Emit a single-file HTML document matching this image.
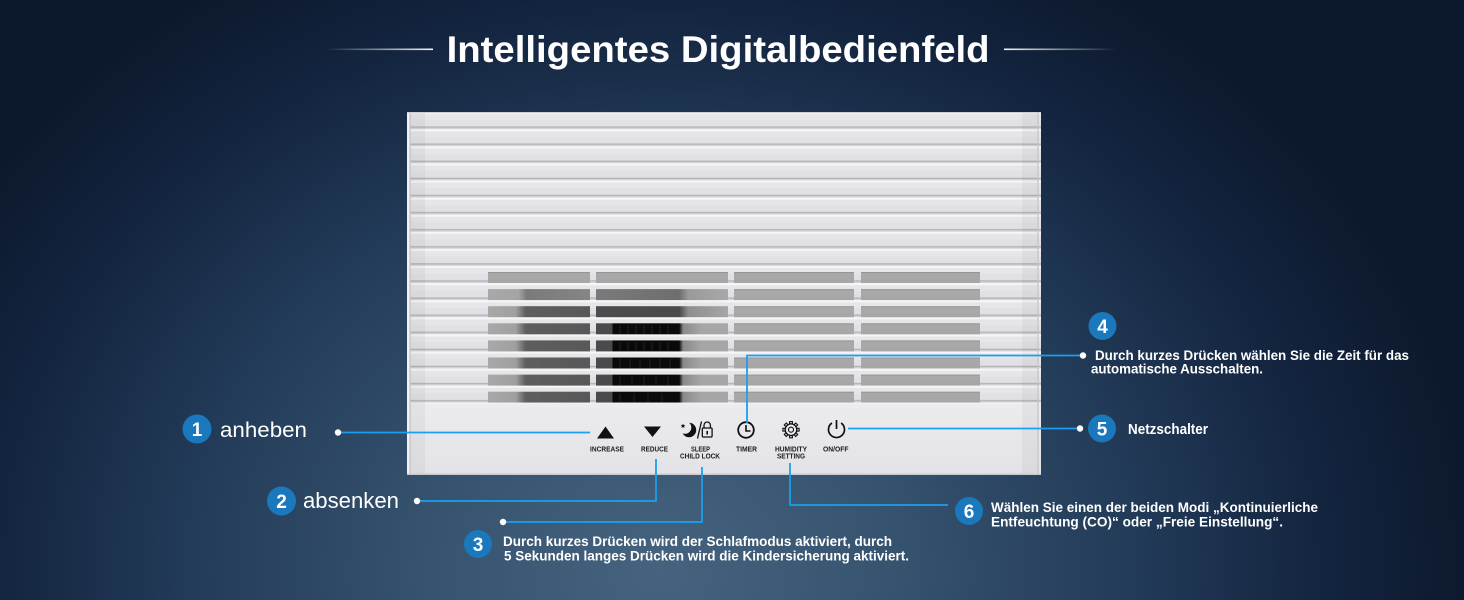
<!DOCTYPE html>
<html><head><meta charset="utf-8"><style>
html,body{margin:0;padding:0;}
body{width:1464px;height:600px;overflow:hidden;background:radial-gradient(ellipse 820px 700px at 660px 570px,#45637f 0%,#36536f 28%,#223b58 58%,#142540 80%,#0c182c 100%);}
svg{display:block;font-family:"Liberation Sans",sans-serif;}
</style></head><body>
<svg width="1464" height="600" viewBox="0 0 1464 600" xmlns="http://www.w3.org/2000/svg">
<defs>
<linearGradient id="ll" x1="0" x2="1" y1="0" y2="0"><stop offset="0" stop-color="#fff" stop-opacity="0"/><stop offset="1" stop-color="#fff" stop-opacity="0.95"/></linearGradient>
<linearGradient id="lr" x1="0" x2="1" y1="0" y2="0"><stop offset="0" stop-color="#fff" stop-opacity="0.95"/><stop offset="1" stop-color="#fff" stop-opacity="0"/></linearGradient>
<pattern id="slat" x="0" y="112" width="1464" height="17.1" patternUnits="userSpaceOnUse">
<rect x="0" y="0" width="1464" height="17.1" fill="#e6e6ea"/>
<rect x="0" y="0" width="1464" height="2.2" fill="#f6f6f8"/>
<rect x="0" y="8" width="1464" height="6.6" fill="#e1e1e5"/>
<rect x="0" y="14.4" width="1464" height="1.5" fill="#b3b3b9"/>
<rect x="0" y="15.9" width="1464" height="1.2" fill="#d5d5d9"/>
</pattern>
<linearGradient id="win" x1="0" x2="0" y1="0" y2="1"><stop offset="0" stop-color="#8c8c8c"/><stop offset="0.15" stop-color="#a9a9a9"/><stop offset="1" stop-color="#a6a6a6"/></linearGradient>
<linearGradient id="c1" x1="488" x2="590" y1="0" y2="0" gradientUnits="userSpaceOnUse"><stop offset="0" stop-color="#a8a8a8"/><stop offset="0.27" stop-color="#a0a0a0"/><stop offset="0.37" stop-color="#5e5e5e"/><stop offset="1" stop-color="#585858"/></linearGradient>
<linearGradient id="c1b" x1="488" x2="590" y1="0" y2="0" gradientUnits="userSpaceOnUse"><stop offset="0" stop-color="#a8a8a8"/><stop offset="0.3" stop-color="#a4a4a4"/><stop offset="0.38" stop-color="#7a7a7a"/><stop offset="1" stop-color="#858585"/></linearGradient>
<linearGradient id="c2" x1="596" x2="728" y1="0" y2="0" gradientUnits="userSpaceOnUse"><stop offset="0" stop-color="#4a4a4a"/><stop offset="0.12" stop-color="#4a4a4a"/><stop offset="0.13" stop-color="#0a0a0a"/><stop offset="0.63" stop-color="#0a0a0a"/><stop offset="0.66" stop-color="#8a8a8a"/><stop offset="0.8" stop-color="#a6a6a6"/><stop offset="1" stop-color="#a6a6a6"/></linearGradient>
<linearGradient id="c2a" x1="596" x2="728" y1="0" y2="0" gradientUnits="userSpaceOnUse"><stop offset="0" stop-color="#4c4c4c"/><stop offset="0.63" stop-color="#4a4a4a"/><stop offset="0.7" stop-color="#8e8e8e"/><stop offset="1" stop-color="#a6a6a6"/></linearGradient>
<linearGradient id="c2b" x1="596" x2="728" y1="0" y2="0" gradientUnits="userSpaceOnUse"><stop offset="0" stop-color="#7a7a7a"/><stop offset="0.63" stop-color="#6e6e6e"/><stop offset="0.7" stop-color="#9a9a9a"/><stop offset="1" stop-color="#a8a8a8"/></linearGradient>
<linearGradient id="panel" x1="0" x2="0" y1="0" y2="1"><stop offset="0" stop-color="#ececef"/><stop offset="1" stop-color="#e3e3e7"/></linearGradient>
<mask id="moon"><rect x="675" y="415" width="30" height="30" fill="#fff"/><circle cx="685" cy="427.5" r="6.3" fill="#000"/></mask>
</defs>

<!-- title -->
<rect x="326" y="48.5" width="107" height="1.6" fill="url(#ll)"/>
<rect x="1004" y="48.5" width="112" height="1.6" fill="url(#lr)"/>
<text x="446.6" y="62" font-size="37" font-weight="bold" fill="#fff" textLength="543" lengthAdjust="spacingAndGlyphs">Intelligentes Digitalbedienfeld</text>

<!-- device -->
<rect x="407" y="112" width="634" height="363" rx="3" fill="#e8e8eb"/>
<rect x="407" y="112" width="634" height="290.7" fill="url(#slat)"/>
<!-- windows -->
<g>
<rect x="488" y="272" width="102" height="11" fill="url(#win)"/>
<rect x="596" y="272" width="132" height="11" fill="url(#win)"/>
<rect x="734" y="272" width="120" height="11" fill="url(#win)"/>
<rect x="861" y="272" width="119" height="11" fill="url(#win)"/>

<rect x="488" y="289.1" width="102" height="11" fill="url(#c1b)"/>
<rect x="596" y="289.1" width="132" height="11" fill="url(#c2b)"/>
<rect x="488" y="306.2" width="102" height="11" fill="url(#c1)"/>
<rect x="596" y="306.2" width="132" height="11" fill="url(#c2a)"/>
<rect x="488" y="323.3" width="102" height="11" fill="url(#c1)"/>
<rect x="596" y="323.3" width="132" height="11" fill="url(#c2)"/>
<rect x="488" y="340.4" width="102" height="11" fill="url(#c1)"/>
<rect x="596" y="340.4" width="132" height="11" fill="url(#c2)"/>
<rect x="488" y="357.5" width="102" height="11" fill="url(#c1)"/>
<rect x="596" y="357.5" width="132" height="11" fill="url(#c2)"/>
<rect x="488" y="374.6" width="102" height="11" fill="url(#c1)"/>
<rect x="596" y="374.6" width="132" height="11" fill="url(#c2)"/>
<rect x="488" y="391.7" width="102" height="11" fill="url(#c1)"/>
<rect x="596" y="391.7" width="132" height="11" fill="url(#c2)"/>

<rect x="734" y="289.1" width="120" height="11" fill="url(#win)"/>
<rect x="861" y="289.1" width="119" height="11" fill="url(#win)"/>
<rect x="734" y="306.2" width="120" height="11" fill="url(#win)"/>
<rect x="861" y="306.2" width="119" height="11" fill="url(#win)"/>
<rect x="734" y="323.3" width="120" height="11" fill="url(#win)"/>
<rect x="861" y="323.3" width="119" height="11" fill="url(#win)"/>
<rect x="734" y="340.4" width="120" height="11" fill="url(#win)"/>
<rect x="861" y="340.4" width="119" height="11" fill="url(#win)"/>
<rect x="734" y="357.5" width="120" height="11" fill="url(#win)"/>
<rect x="861" y="357.5" width="119" height="11" fill="url(#win)"/>
<rect x="734" y="374.6" width="120" height="11" fill="url(#win)"/>
<rect x="861" y="374.6" width="119" height="11" fill="url(#win)"/>
<rect x="734" y="391.7" width="120" height="11" fill="url(#win)"/>
<rect x="861" y="391.7" width="119" height="11" fill="url(#win)"/>
</g>
<!-- black display texture -->
<g stroke="#2a2a2a" stroke-width="0.8">
<path d="M620 325V334M628 325V334M636 325V334M644 325V334M652 325V334M660 325V334M668 325V334M620 342V351M628 342V351M636 342V351M644 342V351M652 342V351M660 342V351M668 342V351M620 359V368M630 359V368M640 359V368M650 359V368M660 359V368M670 359V368M620 376V385M632 376V385M644 376V385M656 376V385M668 376V385M620 393V402M634 393V402M648 393V402M662 393V402"/>
</g>
<!-- bottom panel -->
<rect x="407" y="402.7" width="634" height="72.3" fill="url(#panel)"/>
<rect x="407" y="402.7" width="634" height="1" fill="#f4f4f6"/>
<!-- edges -->
<rect x="407" y="112" width="2.5" height="363" fill="#f2f2f4"/>
<rect x="409.5" y="112" width="1.2" height="363" fill="#bcbcc1"/>
<rect x="411" y="112" width="14" height="363" fill="#000" fill-opacity="0.035"/>
<rect x="1022" y="112" width="16" height="363" fill="#000" fill-opacity="0.035"/>
<rect x="1037.5" y="112" width="1.2" height="363" fill="#c2c2c7"/>
<rect x="407" y="473.5" width="634" height="1.5" fill="#c9c9ce"/>
<rect x="407" y="112" width="634" height="1.2" fill="#cfcfd4"/>

<!-- icons -->
<g fill="#111">
<polygon points="597,438.5 605.5,426.5 614,438.5"/>
<polygon points="644,426.5 661,426.5 652.5,437"/>
<circle cx="689" cy="430" r="7.2" mask="url(#moon)"/>
<path d="M683 423.5l0.7 1.6 1.7 0.1-1.3 1.1 0.4 1.7-1.5-0.9-1.5 0.9 0.4-1.7-1.3-1.1 1.7-0.1z"/>
</g>
<g fill="none" stroke="#111">
<path d="M697.5 438.5L701.5 421.5" stroke-width="1.3"/>
<path d="M704 428V425.2A3.2 3.2 0 0 1 710.4 425.2V428" stroke-width="1.3"/>
<rect x="702.3" y="428" width="9.8" height="9" rx="1" stroke-width="1.3"/>
<circle cx="746" cy="430" r="7.8" stroke-width="1.8"/>
<path d="M746 425V431H750.5" stroke-width="1.6"/>
<circle cx="791" cy="429.7" r="5.8" stroke-width="1.2"/>
<circle cx="791" cy="429.7" r="2.5" stroke-width="1.1"/>
<path d="M841.1 423A8 8 0 1 1 831.9 423" stroke-width="1.7"/>
<path d="M836.5 420V429" stroke-width="1.7"/>
</g>
<g fill="none" stroke="#111" stroke-width="1.1">
<rect x="789.6" y="421.6" width="2.8" height="2.3"/>
<rect x="789.6" y="421.6" width="2.8" height="2.3" transform="rotate(45 791 429.7)"/>
<rect x="789.6" y="421.6" width="2.8" height="2.3" transform="rotate(90 791 429.7)"/>
<rect x="789.6" y="421.6" width="2.8" height="2.3" transform="rotate(135 791 429.7)"/>
<rect x="789.6" y="421.6" width="2.8" height="2.3" transform="rotate(180 791 429.7)"/>
<rect x="789.6" y="421.6" width="2.8" height="2.3" transform="rotate(225 791 429.7)"/>
<rect x="789.6" y="421.6" width="2.8" height="2.3" transform="rotate(270 791 429.7)"/>
<rect x="789.6" y="421.6" width="2.8" height="2.3" transform="rotate(315 791 429.7)"/>
</g>
<rect x="706.4" y="431" width="1.6" height="3.5" fill="#111"/>
<g font-size="7" font-weight="bold" fill="#1a1a1a">
<text x="590" y="451.5" textLength="34" lengthAdjust="spacingAndGlyphs">INCREASE</text>
<text x="641" y="451.5" textLength="27" lengthAdjust="spacingAndGlyphs">REDUCE</text>
<text x="691" y="451.5" textLength="19" lengthAdjust="spacingAndGlyphs">SLEEP</text>
<text x="680" y="458.5" textLength="40" lengthAdjust="spacingAndGlyphs">CHILD LOCK</text>
<text x="736" y="451.5" textLength="21" lengthAdjust="spacingAndGlyphs">TIMER</text>
<text x="775" y="451.5" textLength="32" lengthAdjust="spacingAndGlyphs">HUMIDITY</text>
<text x="777" y="458.5" textLength="28" lengthAdjust="spacingAndGlyphs">SETTING</text>
<text x="823" y="451.5" textLength="25.5" lengthAdjust="spacingAndGlyphs">ON/OFF</text>
</g>

<!-- callout lines -->
<g fill="none" stroke="#1aa0ee" stroke-width="1.8">
<path d="M338 432.5H590"/>
<path d="M417 501H656V459"/>
<path d="M503 522H702V467"/>
<path d="M747 423V355.5H1083"/>
<path d="M848 428.5H1080"/>
<path d="M790 463V505H948"/>
</g>
<g fill="#fff">
<circle cx="338" cy="432.5" r="3.2"/>
<circle cx="417" cy="501" r="3.2"/>
<circle cx="503" cy="522" r="3.2"/>
<circle cx="1083" cy="355.5" r="3.2"/>
<circle cx="1080" cy="428.5" r="3.2"/>
</g>

<!-- number badges -->
<g fill="#1a78bd">
<circle cx="197" cy="429" r="14.5"/>
<circle cx="281.5" cy="501" r="14.5"/>
<circle cx="478" cy="544" r="14"/>
<circle cx="1102.5" cy="326" r="14"/>
<circle cx="1102" cy="428.5" r="14"/>
<circle cx="969" cy="511" r="14"/>
</g>
<g fill="#fff" font-weight="bold" font-size="19" text-anchor="middle">
<text x="197" y="435.8">1</text>
<text x="281.5" y="507.8">2</text>
<text x="478" y="550.8">3</text>
<text x="1102.5" y="332.8">4</text>
<text x="1102" y="435.3">5</text>
<text x="969" y="517.8">6</text>
</g>

<!-- labels -->
<g fill="#fff">
<text x="220" y="437" font-size="21" textLength="87" lengthAdjust="spacingAndGlyphs">anheben</text>
<text x="303" y="508" font-size="22" textLength="96" lengthAdjust="spacingAndGlyphs">absenken</text>
</g>
<g fill="#fff" font-size="14" font-weight="bold">
<text x="503" y="546" textLength="389" lengthAdjust="spacingAndGlyphs">Durch kurzes Drücken wird der Schlafmodus aktiviert, durch</text>
<text x="504" y="560.3" textLength="405" lengthAdjust="spacingAndGlyphs">5 Sekunden langes Drücken wird die Kindersicherung aktiviert.</text>
<text x="1095" y="360" textLength="314" lengthAdjust="spacingAndGlyphs">Durch kurzes Drücken wählen Sie die Zeit für das</text>
<text x="1091" y="373.5" textLength="172" lengthAdjust="spacingAndGlyphs">automatische Ausschalten.</text>
<text x="1128" y="434" font-size="15" textLength="80" lengthAdjust="spacingAndGlyphs">Netzschalter</text>
<text x="991" y="512" textLength="327" lengthAdjust="spacingAndGlyphs">Wählen Sie einen der beiden Modi „Kontinuierliche</text>
<text x="991" y="526.3" textLength="292" lengthAdjust="spacingAndGlyphs">Entfeuchtung (CO)“ oder „Freie Einstellung“.</text>
</g>
</svg>
</body></html>
